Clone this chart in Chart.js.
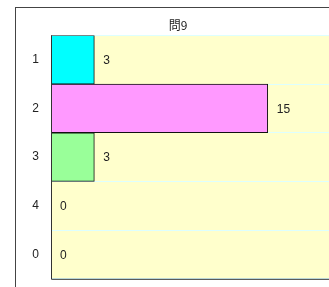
<!DOCTYPE html>
<html>
<head>
<meta charset="utf-8">
<script src="https://cdn.jsdelivr.net/npm/chart.js@4"></script>
<style>
  html, body { margin:0; padding:0; background:#fff; overflow:hidden; width:329px; height:287px; }
  #box { position:absolute; left:15px; top:7px; width:336px; height:290px; border:1px solid #444; background:#fff; }
  canvas { display:block; }
</style>
</head>
<body>
<div id="box"><canvas id="c" width="336" height="290"></canvas></div>
<script>
const categories = ["1", "2", "3", "4", "0"];
const counts = [3, 15, 3, 0, 0];
const barColors = ["#00FFFF", "#FF99FF", "#99FF99", "#FFFFFF", "#FFFFFF"];
const titleText = "問9";

const FONT = "'Noto Sans CJK JP', 'DejaVu Sans', sans-serif";
const NUMFONT = "'Liberation Sans', Arial, sans-serif";

// yellow plot background + left/bottom axis lines
const plotFrame = {
    id: "plotFrame",
    beforeDraw(chart){
        const a = chart.chartArea, ctx = chart.ctx;
        ctx.save();
        ctx.fillStyle = "#FFFFCC";
        ctx.fillRect(a.left, a.top, a.right - a.left, a.bottom - a.top);
        ctx.restore();
    },
    afterDraw(chart){
        const a = chart.chartArea, ctx = chart.ctx;
        ctx.save();
        ctx.strokeStyle = "#333";
        ctx.lineWidth = 1;
        ctx.beginPath();
        ctx.moveTo(a.left + 0.5, a.top);
        ctx.lineTo(a.left + 0.5, a.bottom + 0.5);
        ctx.lineTo(a.right, a.bottom + 0.5);
        ctx.stroke();
        ctx.restore();
    }
};

// value labels to the right of each bar
const valueLabels = {
    id: "valueLabels",
    afterDatasetsDraw(chart){
        const ctx = chart.ctx;
        const meta = chart.getDatasetMeta(0);
        ctx.save();
        ctx.font = "12px " + NUMFONT;
        ctx.fillStyle = "#222";
        ctx.textAlign = "left";
        ctx.textBaseline = "middle";
        meta.data.forEach((bar, i) => {
            ctx.fillText(String(counts[i]), bar.x + 9, bar.y + 1);
        });
        ctx.restore();
    }
};

new Chart(document.getElementById("c"), {
    type: "bar",
    data: {
        labels: categories,
        datasets: [{
            data: counts,
            backgroundColor: barColors,
            borderColor: "#111",
            borderWidth: ctx => counts[ctx.dataIndex] ? 1 : 0,
            borderSkipped: false,
            barPercentage: 1,
            categoryPercentage: 1
        }]
    },
    options: {
        indexAxis: "y",
        responsive: false,
        animation: false,
        devicePixelRatio: 1,
        layout: { padding: { left: 0, right: 12, top: 0, bottom: 17 } },
        plugins: {
            legend: { display: false },
            tooltip: { enabled: false },
            title: {
                display: true,
                text: titleText,
                color: "#222",
                font: { family: FONT, size: 12, weight: "normal" },
                padding: { top: 10, bottom: 3 }
            }
        },
        scales: {
            x: { display: false, min: 0, max: 20 },
            y: {
                offset: true,
                afterFit: s => { s.width = 35; },
                grid: { color: "#DDFFFF", drawTicks: false, offset: true },
                border: { display: false },
                ticks: {
                    color: "#222",
                    padding: 12,
                    font: { family: NUMFONT, size: 12 }
                }
            }
        }
    },
    plugins: [plotFrame, valueLabels]
});
</script>
</body>
</html>
